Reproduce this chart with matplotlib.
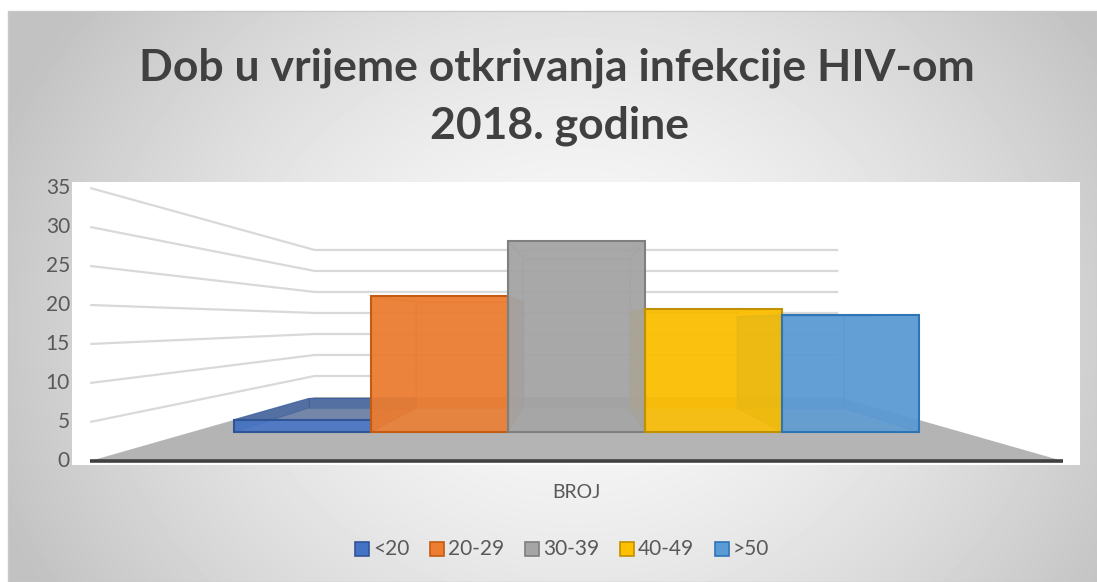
import numpy as np
import matplotlib
matplotlib.use("Agg")
import matplotlib.pyplot as plt
from matplotlib.patches import Polygon, Rectangle
import matplotlib.colors as mcolors

# ---------------- data ----------------
categories = ["<20", "20-29", "30-39", "40-49", ">50"]
values = [2, 22, 31, 20, 19]
bar_colors = ["#4472C4", "#ED7D31", "#A5A5A5", "#FFC000", "#5B9BD5"]
edge_colors = ["#2F5597", "#C55A11", "#7F7F7F", "#BF9000", "#2E75B6"]
y_ticks = [0, 5, 10, 15, 20, 25, 30, 35]
title = "Dob u vrijeme otkrivanja infekcije HIV-om\n2018. godine"
x_label = "BROJ"

# ---------------- 3D scene (perspective) parameters ----------------
VX, VY = 576.5, 322.3          # vanishing point (px)
EYE_H = 17.78                  # eye height above floor, in value units
S_FRONT = 7.8                  # scale (px/unit) at floor front edge
S_BACK = 4.2                   # scale at back wall
S_BAR_F = 6.17                 # scale at bar front faces
S_BAR_B = 4.82                 # scale at bar back faces
HALF_W = 62.35                 # half floor width (units)
BAR_W = 22.2                   # bar width (units)


def proj(X, Y, s):
    return (VX + X * s, VY + (EYE_H - Y) * s)


FONT = "Lato"
TXT = "#595959"

fig = plt.figure(figsize=(10.97, 5.82), dpi=100)
ax = fig.add_axes([0, 0, 1, 1])
ax.axis("off")

# background gradient
yy, xx = np.mgrid[11:582, 8:1097]
d = np.sqrt(((xx - 576) / 620.0) ** 2 + ((yy - 320) / 520.0) ** 2)
d = np.clip(d, 0, 1)
img = 251 - 57 * d ** 1.5
ax.imshow(img, cmap="gray", vmin=0, vmax=255, extent=(8, 1097, 582, 11),
          zorder=0, interpolation="bilinear", aspect="auto")
ax.add_patch(Rectangle((8, 11), 1089, 571, fill=False, ec="#c8c8c8", lw=1, zorder=1))

# white plot area
ax.add_patch(Rectangle((72, 182), 1008, 283, fc="white", ec="none", zorder=1))

# floor
floor = [proj(-HALF_W, 0, S_FRONT), proj(HALF_W, 0, S_FRONT),
         proj(HALF_W, 0, S_BACK), proj(-HALF_W, 0, S_BACK)]
ax.add_patch(Polygon(floor, closed=True, fc="#b4b4b4", ec="none", zorder=2))

# gridlines (side wall + back wall)
for v in y_ticks[1:]:
    p0 = proj(-HALF_W, v, S_FRONT)
    p1 = proj(-HALF_W, v, S_BACK)
    p2 = proj(HALF_W, v, S_BACK)
    ax.plot([p0[0], p1[0], p2[0]], [p0[1], p1[1], p2[1]], color="#d9d9d9",
            lw=1.6, zorder=2, solid_capstyle="butt")

# floor front edge
f0 = proj(-HALF_W, 0, S_FRONT)
f1 = proj(HALF_W, 0, S_FRONT)
ax.plot([f0[0], f1[0]], [f0[1] + 0.5, f1[1] + 0.5], color="#404040", lw=2.6,
        zorder=3, solid_capstyle="butt")

# tick labels
for v in y_ticks:
    x, y = proj(-HALF_W, v, S_FRONT)
    ax.text(70, y, str(v), ha="right", va="center", fontsize=15,
            color=TXT, family=FONT, zorder=5)


def darker(c, f):
    r, g, b = mcolors.to_rgb(c)
    return (r * f, g * f, b * f)


n = len(values)
centers = [(i - (n - 1) / 2) * BAR_W for i in range(n)]

# back / side / top faces first
for cx, v, c, ec in zip(centers, values, bar_colors, edge_colors):
    X0, X1 = cx - BAR_W / 2, cx + BAR_W / 2
    def P(X, Y, front):
        return proj(X, Y, S_BAR_F if front else S_BAR_B)
    faces = [
        [P(X0, 0, False), P(X1, 0, False), P(X1, v, False), P(X0, v, False)],  # back
        [P(X0, 0, True), P(X0, 0, False), P(X0, v, False), P(X0, v, True)],    # left
        [P(X1, 0, True), P(X1, 0, False), P(X1, v, False), P(X1, v, True)],    # right
        [P(X0, v, True), P(X1, v, True), P(X1, v, False), P(X0, v, False)],    # top
    ]
    for k, f in enumerate(faces):
        ax.add_patch(Polygon(f, closed=True, fc=darker(c, 0.8), alpha=0.5,
                             ec="none", zorder=4))
        ax.add_patch(Polygon(f, closed=True, fill=False, ec=ec, lw=0.8,
                             alpha=0.4, zorder=4))

# front faces
for cx, v, c, ec in zip(centers, values, bar_colors, edge_colors):
    X0, X1 = cx - BAR_W / 2, cx + BAR_W / 2
    f = [proj(X0, 0, S_BAR_F), proj(X1, 0, S_BAR_F),
         proj(X1, v, S_BAR_F), proj(X0, v, S_BAR_F)]
    ax.add_patch(Polygon(f, closed=True, fc=c, alpha=0.88, ec="none", zorder=6))
    ax.add_patch(Polygon(f, closed=True, fill=False, ec=ec, lw=1.5, zorder=7))

# title
lines = title.split("\n")
ax.text(557, 68, lines[0], ha="center", va="center", fontsize=32,
        weight="bold", color="#404040", family=FONT, zorder=5)
ax.text(559, 126, lines[1], ha="center", va="center", fontsize=32,
        weight="bold", color="#404040", family=FONT, zorder=5)

# category label
ax.text(576, 493, x_label, ha="center", va="center", fontsize=14,
        color=TXT, family=FONT, zorder=5)

# legend
leg_x = [355, 430, 525, 620, 715]
for lx, lab, c, ec in zip(leg_x, categories, bar_colors, edge_colors):
    ax.add_patch(Rectangle((lx, 542), 14, 14, fc=c, ec=ec, lw=1.2, zorder=5))
    ax.text(lx + 18, 549, lab, ha="left", va="center", fontsize=15,
            color=TXT, family=FONT, zorder=5)

ax.set_xlim(0, 1097)
ax.set_ylim(582, 0)
fig.savefig("out.png", dpi=100)
